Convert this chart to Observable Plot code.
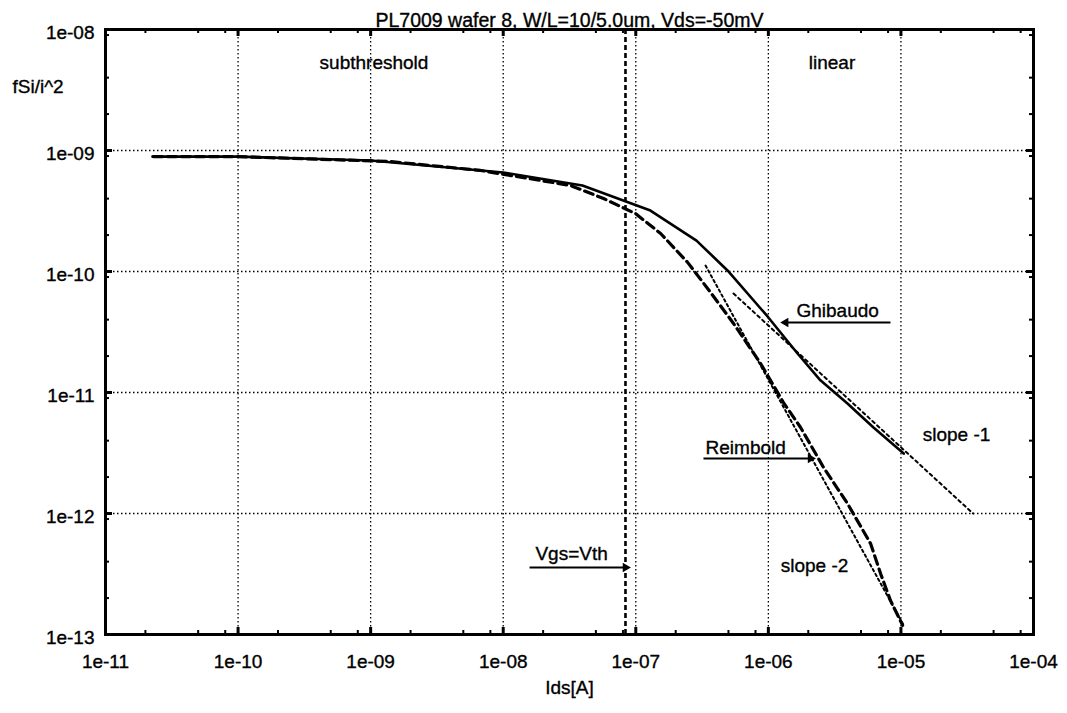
<!DOCTYPE html>
<html><head><meta charset="utf-8">
<script src="https://cdn.jsdelivr.net/npm/d3@7"></script>
<script src="https://cdn.jsdelivr.net/npm/@observablehq/plot@0.6"></script>
<style>
body{margin:0;background:#fff;}
#chart svg{display:block;}
#chart svg text{stroke:#000;stroke-width:0.35px;}
</style></head><body><div id="chart"></div>
<script>
const title = "PL7009 wafer 8, W/L=10/5.0um, Vds=-50mV";
const xLabel = "Ids[A]";
const yLabel = "fSi/i^2";
const xTicks = [1e-11, 1e-10, 1e-9, 1e-8, 1e-7, 1e-6, 1e-5, 1e-4];
const xTickLabels = ["1e-11", "1e-10", "1e-09", "1e-08", "1e-07", "1e-06", "1e-05", "1e-04"];
const yTicks = [1e-13, 1e-12, 1e-11, 1e-10, 1e-9, 1e-8];
const yTickLabels = ["1e-13", "1e-12", "1e-11", "1e-10", "1e-09", "1e-08"];
const xMinorMantissas = [2, 5, 8];
const yMinorMantissas = [2, 4, 9];

// Ghibaudo (solid)
const ghibaudoX = [2.26e-11, 1.0e-10, 1.0e-9, 1.0e-8, 3.96e-8, 1.29e-7, 2.87e-7, 4.92e-7, 9.86e-7, 1.66e-6, 2.47e-6, 3.95e-6, 6.21e-6, 1.05e-5];
const ghibaudoY = [8.9e-10, 8.9e-10, 8.26e-10, 6.58e-10, 5.14e-10, 3.19e-10, 1.80e-10, 1.02e-10, 4.25e-11, 2.10e-11, 1.26e-11, 8.11e-12, 5.14e-12, 3.13e-12];
// Reimbold (thick dashed)
const reimboldX = [2.30e-11, 1.0e-10, 1.41e-9, 6.74e-9, 3.22e-8, 5.71e-8, 9.95e-8, 1.54e-7, 2.46e-7, 3.48e-7, 5.46e-7, 8.73e-7, 1.30e-6, 1.75e-6, 2.61e-6, 3.95e-6, 5.90e-6, 7.02e-6, 8.34e-6, 1.03e-5];
const reimboldY = [8.9e-10, 8.9e-10, 8.11e-10, 6.84e-10, 5.14e-10, 4.01e-10, 3.01e-10, 2.06e-10, 1.19e-10, 7.24e-11, 3.72e-11, 1.74e-11, 8.26e-12, 5.14e-12, 2.40e-12, 1.21e-12, 5.65e-13, 3.19e-13, 1.91e-13, 1.19e-13];
// asymptotes
const slope1X = [5.46e-7, 3.5e-5];
const slope1Y = [6.58e-11, 1.0e-12];
const slope2X = [3.36e-7, 1.05e-5];
const slope2Y = [1.12e-10, 1.19e-13];
// threshold
const vthX = 8.36e-8;

// annotations
const regionLabels = ["subthreshold", "linear"];
const regionX = [1.06e-9, 3.02e-6];
const regionY = [5.3e-9, 5.3e-9];
const noteLabels = ["Ghibaudo", "Reimbold", "Vgs=Vth", "slope -1", "slope -2"];
const noteX = [1.63e-6, 3.36e-7, 1.75e-8, 1.46e-5, 1.24e-6];
const noteY = [4.76e-11, 3.51e-12, 4.67e-13, 4.42e-12, 3.72e-13];
const arrowFromX = [8.34e-6, 3.24e-7, 1.58e-8];
const arrowToX = [1.35e-6, 2.08e-6, 8.36e-8];
const arrowY = [3.79e-11, 2.85e-12, 3.58e-13];

const W = 1067, H = 713, mL = 105, mR = 34, mT = 29, mB = 79;
const innerW = W - mL - mR, innerH = H - mT - mB;
const zip = (xs, ys) => xs.map((x, i) => ({x, y: ys[i]}));
const minors = (majors, mants) => majors.slice(0, -1).flatMap(m => mants.map(k => m * k));
const xMinor = minors(xTicks, xMinorMantissas);
const yMinor = minors(yTicks, yMinorMantissas);
const regions = regionLabels.map((t, i) => ({t, x: regionX[i], y: regionY[i]}));
const notes = noteLabels.map((t, i) => ({t, x: noteX[i], y: noteY[i]}));
const arrows = arrowFromX.map((x1, i) => ({x1, x2: arrowToX[i], y: arrowY[i], rot: arrowToX[i] > x1 ? 90 : -90}));

const font = "Liberation Sans";
const fs = 19;
const chart = Plot.plot({
  width: W, height: H,
  marginLeft: mL, marginRight: mR, marginTop: mT, marginBottom: mB,
  style: {fontFamily: font, fontSize: fs + "px", background: "#fff", color: "#000"},
  x: {type: "log", domain: [1e-11, 1e-4]},
  y: {type: "log", domain: [1e-13, 1e-8]},
  marks: [
    Plot.ruleX(xTicks.slice(1, -1), {stroke: "#000", strokeWidth: 1.3, strokeDasharray: "1.5,2.5"}),
    Plot.ruleY(yTicks.slice(1, -1), {stroke: "#000", strokeWidth: 1.3, strokeDasharray: "1.5,2.5"}),
    Plot.ruleX([vthX], {stroke: "#000", strokeWidth: 2.6, strokeDasharray: "5,3"}),
    Plot.line(zip(slope2X, slope2Y), {x: "x", y: "y", stroke: "#000", strokeWidth: 2, strokeDasharray: "2.5,3"}),
    Plot.line(zip(slope1X, slope1Y), {x: "x", y: "y", stroke: "#000", strokeWidth: 2, strokeDasharray: "3,3.5"}),
    Plot.line(zip(reimboldX, reimboldY), {x: "x", y: "y", stroke: "#000", strokeWidth: 3.2, strokeDasharray: "9,5"}),
    Plot.line(zip(ghibaudoX, ghibaudoY), {x: "x", y: "y", stroke: "#000", strokeWidth: 2.6}),
    // inward ticks
    Plot.tickX(xTicks, {x: d => d, insetTop: innerH - 7, stroke: "#000", strokeWidth: 3}),
    Plot.tickX(xTicks, {x: d => d, insetBottom: innerH - 7, stroke: "#000", strokeWidth: 3}),
    Plot.tickX(xMinor, {x: d => d, insetTop: innerH - 4, stroke: "#000", strokeWidth: 2}),
    Plot.tickX(xMinor, {x: d => d, insetBottom: innerH - 4, stroke: "#000", strokeWidth: 2}),
    Plot.tickY(yTicks, {y: d => d, insetRight: innerW - 7, stroke: "#000", strokeWidth: 3}),
    Plot.tickY(yTicks, {y: d => d, insetLeft: innerW - 7, stroke: "#000", strokeWidth: 3}),
    Plot.tickY(yMinor, {y: d => d, insetRight: innerW - 4, stroke: "#000", strokeWidth: 2}),
    Plot.tickY(yMinor, {y: d => d, insetLeft: innerW - 4, stroke: "#000", strokeWidth: 2}),
    Plot.frame({stroke: "#000", strokeWidth: 3}),
    Plot.axisX(xTicks, {tickSize: 0, tickPadding: 20, tickFormat: d => xTickLabels[xTicks.indexOf(d)], label: null, fontSize: fs}),
    Plot.axisY(yTicks, {tickSize: 0, tickPadding: 11, dy: 3, tickFormat: d => yTickLabels[yTicks.indexOf(d)], label: null, fontSize: fs}),
    // annotations
    Plot.text(regions, {x: "x", y: "y", text: "t", fontSize: fs, fill: "#000"}),
    Plot.text(notes, {x: "x", y: "y", text: "t", textAnchor: "start", fontSize: fs, fill: "#000"}),
    Plot.link(arrows, {x1: "x1", x2: "x2", y1: "y", y2: "y", stroke: "#000", strokeWidth: 2}),
    Plot.dot(arrows, {x: "x2", y: "y", symbol: "triangle2", r: 4.5, fill: "#000", stroke: null, rotate: "rot"}),
    // titles
    Plot.text([title], {text: d => d, frameAnchor: "top", dy: -16, fontSize: fs + 0.5, fill: "#000"}),
    Plot.text([xLabel], {text: d => d, frameAnchor: "bottom", dy: 59, fontSize: fs, fill: "#000"}),
    Plot.text([yLabel], {text: d => d, frameAnchor: "top-left", dx: -93, dy: 50, textAnchor: "start", fontSize: fs, fill: "#000"})
  ]
});
document.getElementById("chart").appendChild(chart);
</script>
</body></html>
